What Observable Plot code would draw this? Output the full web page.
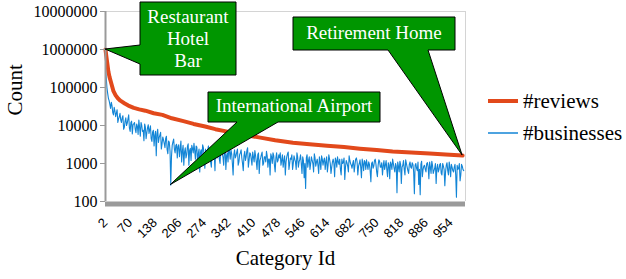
<!DOCTYPE html>
<html><head><meta charset="utf-8">
<script src="https://cdn.jsdelivr.net/npm/d3@7"></script>
<script src="https://cdn.jsdelivr.net/npm/@observablehq/plot@0.6"></script>
<style>body{margin:0;background:#fff} svg{display:block}</style>
</head><body><div id="chart"></div>
<script>
const xTicks = [2,70,138,206,274,342,410,478,546,614,682,750,818,886,954];
const yTicks = [100,1000,10000,100000,1000000,10000000];

const reviewCats = [2,4,7,10,13,16,20,24,30,36,43,55,65,80,95,112,135,159,185,217,245,277,305,338,380,429,470,519,565,613,660,704,750,794,845,896,940,987];
const reviewCounts = [1000000,700000,430000,260000,190000,150000,110000,80000,62000,52000,45000,38000,33500,29000,26500,24500,21000,19000,15500,13000,11000,9400,8000,6900,5800,4800,4100,3500,3200,2950,2700,2450,2250,2080,1950,1830,1720,1620];

// #businesses, read at category ids 2, 6, 10, ... 990
const businessCatsA = d3.range(2, 991, 4);
const businessCountsA = [
 320000, 98000, 52000, 36000, 41000, 22000, 30000, 17000, 26000, 15000,
 21000, 12000, 18000, 9000, 16000, 11500, 19000, 7000, 13000, 10500,
 12000, 6500, 9500, 14000, 5200, 10000, 7500, 11000, 4500, 8800,
 6200, 9800, 3800, 7500, 5500, 1600, 8000, 4800, 6600, 3300,
 4200, 2600, 5200, 1800, 3600, 270, 3000, 4400, 1900, 3200,
 2800, 1500, 3900, 2100, 900, 2600, 1700, 3300, 2200, 1200,
 2500, 3400, 1300, 2700, 1800, 600, 2300, 3100, 1600, 2400,
 1200, 2900, 2000, 800, 2600, 1700, 3000, 1400, 2200, 1000,
 2500, 1500, 2100, 700, 1900, 2700, 1300, 1800, 500, 2300,
 1600, 2400, 1100, 1900, 1400, 650, 2100, 1500, 2600, 1200,
 1800, 900, 1500, 2200, 1100, 1700, 550, 1400, 2000, 1000,
 1500, 2100, 800, 1300, 1800, 1000, 1600, 600, 1900, 1200,
 1400, 900, 1700, 1200, 500, 1500, 2000, 1000, 1300, 700,
 1600, 1100, 1900, 800, 1300, 1000, 1500, 420, 220, 1700,
 1200, 700, 1500, 1000, 1800, 850, 1300, 550, 1100, 1600,
 900, 1400, 1100, 600, 1700, 1000, 800, 1300, 450, 1200,
 1500, 950, 700, 1300, 1050, 380, 1200, 850, 1600, 1000,
 750, 1200, 900, 1400, 500, 1000, 800, 1300, 650, 1100,
 1250, 700, 950, 330, 1100, 850, 1300, 600, 900, 1150,
 800, 500, 1200, 900, 700, 1050, 400, 950, 1300, 750,
 1000, 170, 850, 1150, 300, 900, 700, 1250, 800, 550,
 1100, 750, 950, 160, 1000, 650, 280, 150, 1150, 700,
 900, 600, 1050, 400, 800, 1150, 550, 750, 300, 950,
 700, 1000, 500, 850, 260, 900, 650, 1100, 450, 800,
 600, 950, 130, 700, 1000, 500, 850, 650
];
// #businesses, read at category ids 4, 8, 12, ... 988
const businessCatsB = d3.range(4, 989, 4);
const businessCountsB = [
 180000, 70000, 45000, 28000, 33000, 19000, 24000, 21000, 12000, 17000,
 14000, 16000, 8000, 13000, 10000, 15000, 8500, 12000, 6000, 11000,
 8000, 11000, 5800, 9000, 12000, 7000, 4000, 9000, 6500, 10500,
 7800, 4500, 6800, 2900, 7000, 6000, 3600, 5600, 2400, 5000,
 3400, 4600, 2300, 3900, 2100, 1500, 3700, 2400, 3000, 1400,
 3100, 2400, 1100, 3000, 2000, 1400, 2800, 900, 2500, 3000,
 1900, 2200, 2900, 1000, 2400, 2000, 1400, 2600, 750, 1900,
 2300, 1600, 1100, 2400, 1900, 650, 2300, 1800, 1300, 2600,
 1800, 900, 2400, 1600, 1100, 2000, 2300, 1000, 1700, 1400,
 2000, 900, 1700, 2300, 1000, 1600, 1200, 2200, 800, 1900,
 1300, 2000, 1100, 1600, 700, 1900, 1200, 1700, 900, 1500,
 1100, 1600, 1300, 500, 1500, 1900, 900, 1400, 1100, 1700,
 1900, 1200, 800, 1600, 1100, 1800, 700, 1400, 1700, 1000,
 1300, 700, 1500, 1100, 1700, 550, 1200, 1000, 1400, 800,
 1500, 1000, 1200, 600, 1400, 1100, 900, 1500, 700, 1300,
 1200, 700, 1500, 900, 1300, 550, 1100, 1000, 1400, 800,
 1100, 1300, 500, 1000, 1400, 800, 1050, 600, 1200, 900,
 1000, 600, 1300, 1100, 850, 1250, 420, 1000, 1200, 700,
 900, 1100, 650, 1000, 750, 1200, 950, 450, 1250, 800,
 1050, 850, 700, 1200, 450, 900, 1100, 700, 1000, 600,
 850, 1100, 600, 950, 800, 1200, 500, 1000, 650, 950,
 800, 1050, 600, 900, 750, 1100, 700, 950, 450, 850,
 700, 1000, 800, 1100, 550, 900, 650, 1000, 750, 600,
 950, 550, 1000, 700, 600, 1050, 500, 800, 950, 650,
 800, 500, 900, 750, 350, 950, 700
];

const seriesNames = ["#reviews", "#businesses"];
const seriesColors = ["#e2491b", "#1285d6"];
const calloutLabels = [["Restaurant","Hotel","Bar"], ["Retirement Home"], ["International Airport"]];

const business = businessCatsA.map((c, i) => ({cat: c, count: businessCountsA[i]}))
  .concat(businessCatsB.map((c, i) => ({cat: c, count: businessCountsB[i]})))
  .sort((a, b) => a.cat - b.cat);

const serif = "'Liberation Serif', 'Times New Roman', serif";
const sans = "'Liberation Sans', Arial, sans-serif";

const chart = Plot.plot({
  width: 626, height: 279,
  marginLeft: 105, marginRight: 161, marginTop: 11, marginBottom: 78,
  style: {fontFamily: serif, background: "white"},
  x: {domain: [2, 995]},
  y: {type: "log", domain: [100, 1e7]},
  marks: [
    Plot.ruleY([1e7], {stroke: "#d4d4d4"}),
    Plot.ruleX([995], {stroke: "#d4d4d4"}),
    Plot.line(business, {x: "cat", y: "count", stroke: seriesColors[1], strokeWidth: 1.1}),
    Plot.line(reviewCounts, {x: (d, i) => reviewCats[i], y: d => d, stroke: seriesColors[0], strokeWidth: 4, strokeLinejoin: "round"}),
    Plot.axisY({ticks: yTicks, tickFormat: d => String(d), label: null, tickSize: 5, tickPadding: 3, fontSize: 16, stroke: "#999", fill: "black"}),
    Plot.ruleX([2], {stroke: "#9a9a9a", strokeWidth: 2}),
    Plot.ruleY([100], {stroke: "#9a9a9a", strokeWidth: 5, dy: 2.5}),
    Plot.axisX({ticks: xTicks, tickRotate: -45, tickSize: 0, tickPadding: 19, label: null, fontSize: 13, fontFamily: sans, fill: "black"}),
    Plot.text(["Count"], {text: d => d, frameAnchor: "left", dx: -90, dy: 9, rotate: -90, fontSize: 21}),
    Plot.text(["Category Id"], {text: d => d, frameAnchor: "bottom", dy: 63, fontSize: 21})
  ]
});
document.getElementById("chart").appendChild(chart);

const sx = chart.scale("x"), sy = chart.scale("y");
const svg = d3.select(chart);

// callouts
const green = "#009600";
const airport = d3.least(business.filter(d => d.cat < 400), d => d.count);
const first = {cat: reviewCats[0], count: reviewCounts[0]};
const last = {cat: reviewCats[reviewCats.length - 1], count: reviewCounts[reviewCounts.length - 1]};
const tips = [first, last, airport].map(d => [sx.apply(d.cat), sy.apply(d.count)]);
const paths = [
  `M140,2H236V75H140V64L${tips[0][0]},${tips[0][1]}L140,45Z`,
  `M293,17H455V50H428L${tips[1][0]},${tips[1][1]}L388,50H293Z`,
  `M208,92H380V122H278L${tips[2][0]},${tips[2][1]}L237,122H208Z`
];
const textPos = [[188, [23, 45, 67]], [374, [39]], [294, [112]]];
paths.forEach((p, k) => {
  svg.append("path").attr("d", p).attr("fill", green).attr("stroke", "black").attr("stroke-width", 1);
  calloutLabels[k].forEach((t, j) => {
    svg.append("text").attr("x", textPos[k][0]).attr("y", textPos[k][1][j])
      .attr("text-anchor", "middle").attr("fill", "white")
      .style("font-family", serif).style("font-size", "19px").text(t);
  });
});

// legend
const legendY = [101, 133];
seriesNames.forEach((n, k) => {
  svg.append("line").attr("x1", 488).attr("x2", 518).attr("y1", legendY[k]).attr("y2", legendY[k])
    .attr("stroke", seriesColors[k]).attr("stroke-width", k === 0 ? 4 : 1.5);
  svg.append("text").attr("x", 523).attr("y", legendY[k]).attr("dy", "0.33em")
    .attr("text-anchor", "start")
    .style("font-family", serif).style("font-size", "21px").attr("fill", "black").text(n);
});
</script>
</body></html>
